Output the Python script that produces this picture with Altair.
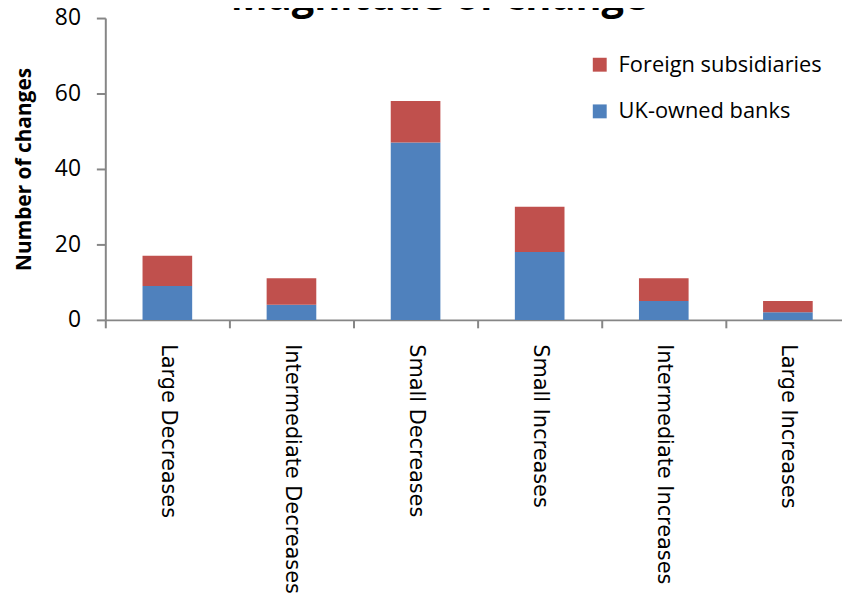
import altair as alt
import pandas as pd

categories = ["Large Decreases", "Intermediate Decreases", "Small Decreases",
              "Small Increases", "Intermediate Increases", "Large Increases"]
uk_owned = [9, 4, 47, 18, 5, 2]
foreign = [8, 7, 11, 12, 6, 3]
series = ["Foreign subsidiaries", "UK-owned banks"]
colors = ["#C0504D", "#4F81BD"]
y_ticks = [0, 20, 40, 60, 80]
title_text = "Magnitude of change"

rows = []
for c, u, f in zip(categories, uk_owned, foreign):
    rows.append({"category": c, "series": "UK-owned banks", "value": u, "order": 0})
    rows.append({"category": c, "series": "Foreign subsidiaries", "value": f, "order": 1})
df = pd.DataFrame(rows)

grey = "#868686"

bars = alt.Chart(df).mark_bar(size=50).encode(
    x=alt.X(
        "category:N", sort=categories, title=None,
        scale=alt.Scale(range=[0, 750], paddingInner=0, paddingOuter=0),
        axis=alt.Axis(
            tickBand="extent", labelAngle=90, labelFont="DejaVu Sans",
            labelFontSize=21, labelColor="black", labelAlign="left",
            labelBaseline="middle", labelPadding=16, labelLimit=400,
            tickSize=8, tickWidth=2, tickColor=grey,
            domainColor=grey, domainWidth=2, grid=False,
        ),
    ),
    y=alt.Y(
        "value:Q", stack="zero",
        scale=alt.Scale(domain=[0, 80]),
        axis=alt.Axis(
            values=y_ticks, grid=False, domainColor=grey, domainWidth=2,
            tickColor=grey, tickWidth=2, tickSize=9,
            labelFont="Open Sans", labelFontSize=23, labelColor="black",
            labelPadding=16,
            title="Number of changes", titleFont="Open Sans", titleFontSize=21,
            titleFontWeight="bold", titleColor="black", titleAngle=270,
            titleX=-75, titleY=152, titleAlign="center",
            titleBaseline="alphabetic",
        ),
    ),
    color=alt.Color(
        "series:N", title=None,
        scale=alt.Scale(domain=series, range=colors),
        legend=alt.Legend(
            orient="none", legendX=487, legendY=36, padding=0,
            symbolType="square", symbolSize=196, symbolStrokeWidth=0,
            labelFont="Open Sans", labelFontSize=22, labelColor="black",
            labelOffset=8, rowPadding=25, labelLimit=400,
        ),
    ),
    order=alt.Order("order:Q"),
)

title = alt.Chart(pd.DataFrame({"t": [title_text]})).mark_text(
    font="Open Sans", fontSize=40, fontWeight="bold", align="center",
    baseline="alphabetic", color="black",
).encode(text="t:N", x=alt.value(336), y=alt.value(-8))

chart = alt.layer(bars, title).properties(
    width=742, height=304,
    autosize=alt.AutoSizeParams(type="none"),
    padding={"left": 98, "top": 8, "right": 0, "bottom": 277},
).configure_view(strokeWidth=0)

chart.save("out.html", embed_options={"renderer": "svg", "actions": False})
